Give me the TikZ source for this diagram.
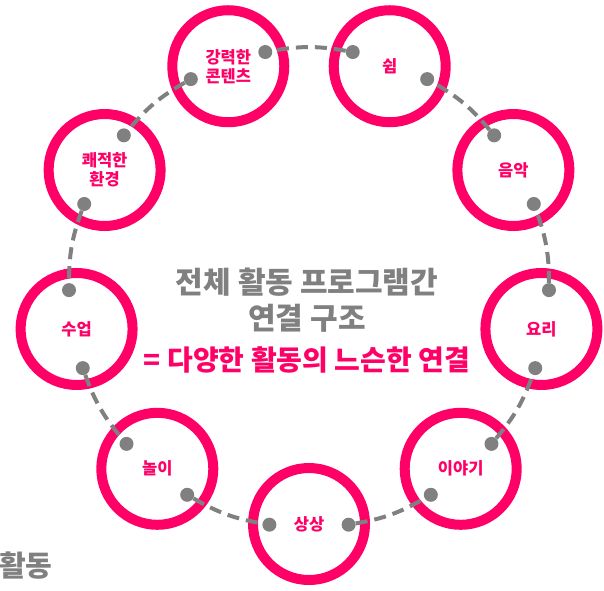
\documentclass[tikz,border=0pt]{standalone}
\usepackage{fontspec}
\setmainfont{Noto Sans CJK KR}
\definecolor{hotpink}{RGB}{255,0,102}
\definecolor{linkgray}{RGB}{128,128,128}

\begin{document}
\begin{tikzpicture}[
    x=1pt, y=-1pt,
    every node/.style={font=\bfseries},
    ring/.style={circle, draw=hotpink, line width=10pt, minimum size=112pt,
      inner sep=0pt, align=center, text=hotpink,
      font=\fontsize{16.5}{19}\selectfont\bfseries},
    dot/.style={circle, fill=linkgray, minimum size=14pt, inner sep=0pt},
    link/.style={draw=linkgray, line width=4pt, dash pattern=on 12pt off 7pt},
    title/.style={text=linkgray, align=center,
      font=\fontsize{30}{36}\selectfont\bfseries},
  ]
  \useasboundingbox (0,0) rectangle (604,590);
  \coordinate (ctr) at (309,288);

  % activities round the ring
  \foreach \i/\a/\txt in {1/-90/상상, 2/-50/이야기, 3/-10/요리, 4/30/음악,
      5/70/쉼, 6/110/{강력한\\콘텐츠}, 7/150/{쾌적한\\환경}, 8/190/수업, 9/230/놀이} {
    \node[ring] (act\i) at ([shift={(\a:236pt)}]ctr) {\txt};
    \pgfmathsetmacro{\lo}{\a-9.5}
    \pgfmathsetmacro{\hi}{\a+9.5}
    \node[dot] (in\i) at ([shift={(\lo:240pt)}]ctr) {};
    \node[dot] (out\i) at ([shift={(\hi:240pt)}]ctr) {};
  }

  % loose links between neighbours
  \foreach \i/\j in {1/2, 2/3, 3/4, 4/5, 5/6, 6/7, 7/8, 8/9, 9/1}
    \draw[link] (out\i) to[bend right=10] (in\j);

  \node[title] (main) at (307,300) {전체 활동 프로그램간\\연결 구조};
  \node[title, text=hotpink, font=\fontsize{28}{32}\selectfont\bfseries]
    (sub) at (307,360) {= 다양한 활동의 느슨한 연결};
  \node[text=linkgray, anchor=west, inner sep=0pt,
    font=\fontsize{29}{32}\selectfont\bfseries] (tag) at (-1,566) {활동};
\end{tikzpicture}
\end{document}
